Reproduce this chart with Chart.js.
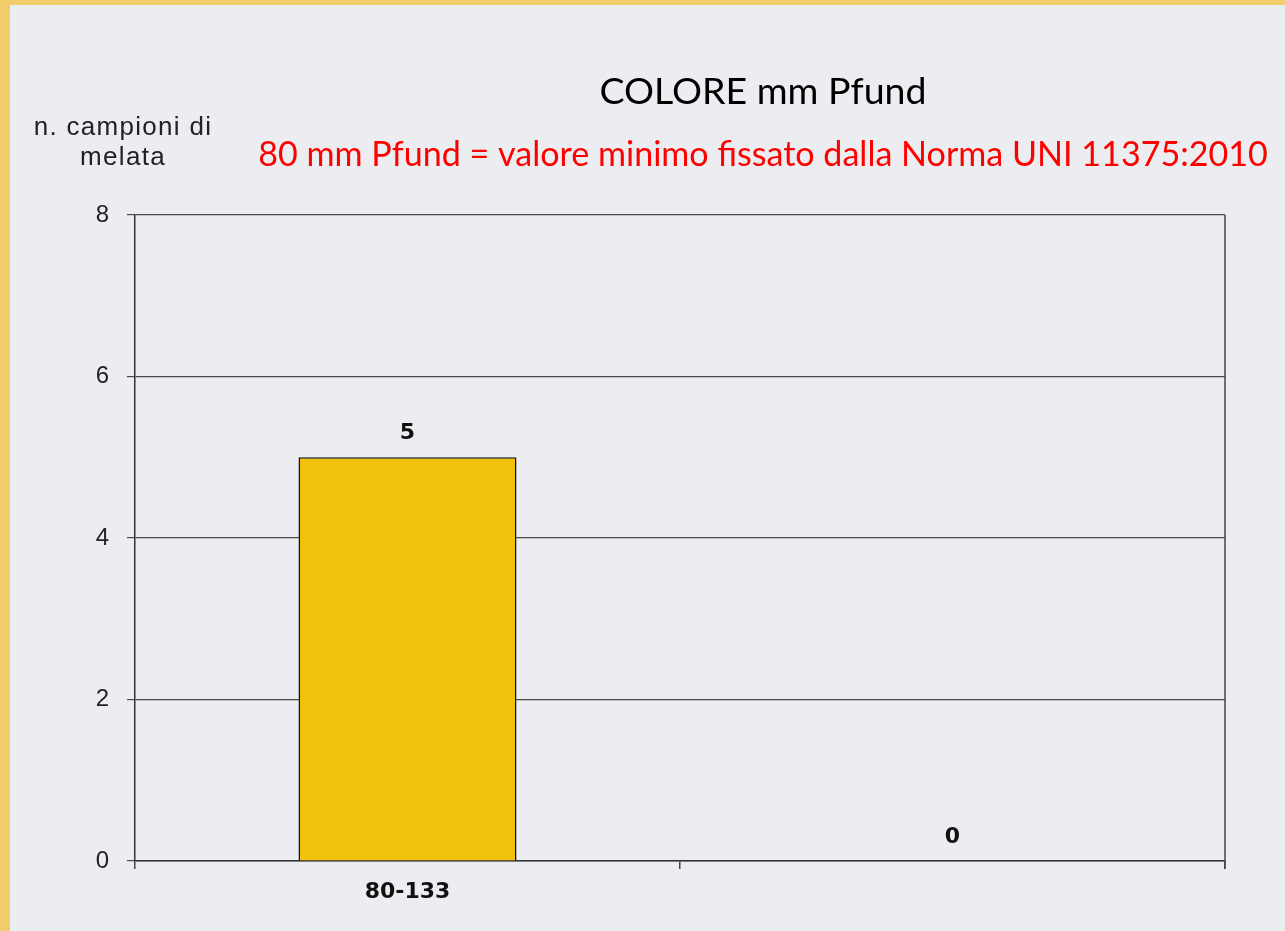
<!DOCTYPE html>
<html>
<head>
<meta charset="utf-8">
<script src="https://cdn.jsdelivr.net/npm/chart.js@4.4.1/dist/chart.umd.min.js"></script>
<style>
  html, body { margin: 0; padding: 0; }
  body { width: 1285px; height: 931px; background: #f2cd6b; position: relative; overflow: hidden; }
  #pannello { position: absolute; left: 10px; top: 5px; right: 0; bottom: 0; background: #ecedf1; }
  #wrap { position: absolute; left: 0; top: 0; width: 1285px; height: 931px; }
</style>
</head>
<body>
<div id="pannello"></div>
<div id="wrap"><canvas id="grafico" width="1285" height="931"></canvas></div>
<script>
// DATI
const categorie = ["80-133", ""];
const campioni = [5, 0];
const tickY = [0, 2, 4, 6, 8];

const titolo = "COLORE mm Pfund";
const sottotitolo = "80 mm Pfund = valore minimo fissato dalla Norma UNI 11375:2010";
const titoloAsseY = ["n. campioni di", "melata"];

// --- TESTI FISSI (titolo, nota rossa, titolo asse) ---
const testiPlugin = {
  id: "testi",
  afterDraw(chart) {
    const c = chart.ctx;
    c.save();
    c.textBaseline = "middle";
    c.textAlign = "center";

    // titolo: adatta la dimensione alla larghezza del riferimento
    c.fillStyle = "#000";
    c.font = fitFont(c, titolo, 327, "Lato");
    c.fillText(titolo, 763, 92);

    c.fillStyle = "#ff0000";
    c.font = fitFont(c, sottotitolo, 1010, "Lato");
    c.fillText(sottotitolo, 763, 155);

    // titolo asse Y, lettere un po' spaziate come nell'originale
    c.fillStyle = "#222";
    c.font = "26px 'Liberation Sans', Arial, sans-serif";
    c.letterSpacing = "1.3px";
    c.fillText(titoloAsseY[0], 123, 128);
    c.fillText(titoloAsseY[1], 123, 158);
    c.restore();
  }
};

function fitFont(c, testo, larghezza, famiglia) {
  c.font = "100px " + famiglia;
  const w = c.measureText(testo).width;
  return (100 * larghezza / w).toFixed(1) + "px " + famiglia;
}

// --- ETICHETTE VALORI SOPRA LE BARRE + BORDO DESTRO ---
const etichettePlugin = {
  id: "etichette",
  afterDatasetsDraw(chart) {
    const c = chart.ctx;
    const meta = chart.getDatasetMeta(0);
    c.save();
    c.fillStyle = "#111";
    c.font = "bold 22px 'DejaVu Sans', Verdana, sans-serif";
    c.textAlign = "center";
    c.textBaseline = "bottom";
    meta.data.forEach((bar, i) => {
      c.fillText(String(campioni[i]), bar.x, bar.y - 13);
    });

    // bordo destro dell'area del grafico
    const a = chart.chartArea;
    c.strokeStyle = "#444";
    c.lineWidth = 1.5;
    c.beginPath();
    c.moveTo(a.right, a.top);
    c.lineTo(a.right, a.bottom + 8);
    c.stroke();
    c.restore();
  }
};

new Chart(document.getElementById("grafico"), {
  type: "bar",
  data: {
    labels: categorie,
    datasets: [{
      data: campioni,
      backgroundColor: "#f2c10c",
      borderColor: "#111",
      borderWidth: 1.5,
      barPercentage: 0.8,
      categoryPercentage: 0.5
    }]
  },
  options: {
    responsive: false,
    animation: false,
    layout: { padding: { top: 215, right: 60, bottom: 0, left: 0 } },
    plugins: {
      legend: { display: false },
      tooltip: { enabled: false }
    },
    scales: {
      x: {
        grid: {
          offset: true,
          drawOnChartArea: false,
          drawTicks: true,
          tickLength: 8,
          color: "#444",
          lineWidth: 1.5
        },
        border: { color: "#333", width: 1.5 },
        ticks: {
          color: "#111",
          padding: 10,
          font: { family: "'DejaVu Sans', Verdana, sans-serif", size: 22, weight: "bold" }
        },
        afterFit(scale) { scale.height = 931 - 861; }
      },
      y: {
        min: 0,
        max: 8,
        afterBuildTicks(scale) { scale.ticks = tickY.map(v => ({ value: v })); },
        grid: {
          color: "#4a4a4a",
          lineWidth: 1.2,
          drawTicks: true,
          tickLength: 8
        },
        border: { color: "#333", width: 1.5 },
        ticks: {
          color: "#222",
          padding: 18,
          font: { family: "'Liberation Sans', Arial, sans-serif", size: 24 }
        },
        afterFit(scale) { scale.width = 135; }
      }
    }
  },
  plugins: [testiPlugin, etichettePlugin]
});
</script>
</body>
</html>
